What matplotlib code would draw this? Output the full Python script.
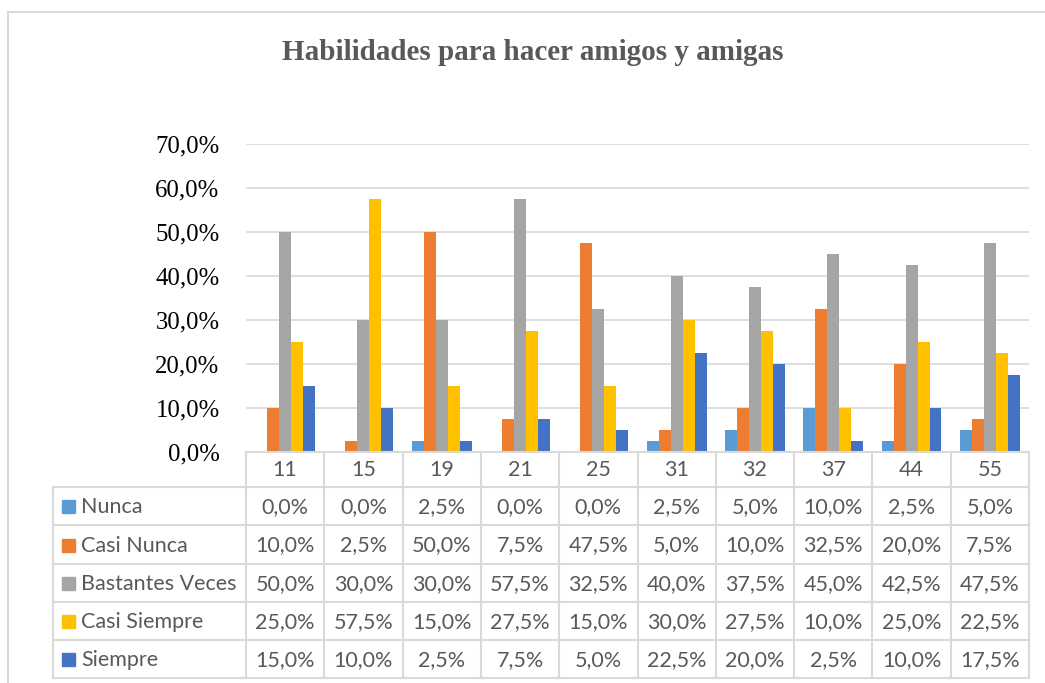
import numpy as np
import matplotlib.pyplot as plt
from matplotlib.lines import Line2D
from matplotlib.patches import Rectangle

# datos
categorias = ["11", "15", "19", "21", "25", "31", "32", "37", "44", "55"]
series = ["Nunca", "Casi Nunca", "Bastantes Veces", "Casi Siempre", "Siempre"]
nunca = [0.0, 0.0, 2.5, 0.0, 0.0, 2.5, 5.0, 10.0, 2.5, 5.0]
casi_nunca = [10.0, 2.5, 50.0, 7.5, 47.5, 5.0, 10.0, 32.5, 20.0, 7.5]
bastantes = [50.0, 30.0, 30.0, 57.5, 32.5, 40.0, 37.5, 45.0, 42.5, 47.5]
casi_siempre = [25.0, 57.5, 15.0, 27.5, 15.0, 30.0, 27.5, 10.0, 25.0, 22.5]
siempre = [15.0, 10.0, 2.5, 7.5, 5.0, 22.5, 20.0, 2.5, 10.0, 17.5]
colores = ["#5B9BD5", "#ED7D31", "#A5A5A5", "#FFC000", "#4472C4"]
valores = [nunca, casi_nunca, bastantes, casi_siempre, siempre]

W, H = 1045, 683
gris = "#595959"
linea = "#D9D9D9"
fuente_tabla = "Lato"
tam_tabla = 15.5

def pct(v):
    return ("%.1f%%" % v).replace(".", ",")

fig = plt.figure(figsize=(W / 100, H / 100), dpi=100)

# ---- area del grafico (pixeles) ----
x0, x1 = 246, 1029
y_top, y_bot = 144, 452
ax = fig.add_axes([x0 / W, 1 - y_bot / H, (x1 - x0) / W, (y_bot - y_top) / H])
n = len(categorias)
xs = np.arange(n)
ancho = 0.153
for k in range(len(series)):
    ax.bar(xs + (k - 2) * ancho, valores[k], ancho, color=colores[k], zorder=3)
ax.set_xlim(-0.5, n - 0.5)
ax.set_ylim(0, 70)
ax.set_yticks(np.arange(0, 71, 10))
ax.set_yticklabels([pct(v) for v in np.arange(0, 71, 10)],
                   fontfamily="Liberation Serif", fontsize=17.8, color="black")
ax.set_xticks([])
ax.tick_params(axis="y", length=0, pad=19)
ax.grid(axis="y", color=linea, linewidth=1.2, zorder=0)
for s in ax.spines.values():
    s.set_visible(False)

# ---- capa en pixeles para tabla, titulo y borde ----
ov = fig.add_axes([0, 0, 1, 1])
ov.set_xlim(0, W)
ov.set_ylim(H, 0)
ov.axis("off")

# borde del grafico
ov.add_line(Line2D([8, 8], [12, H], color=linea, lw=1.5))
ov.add_line(Line2D([8, W], [12, 12], color=linea, lw=1.5))

ov.text(533, 52, "Habilidades para hacer amigos y amigas", ha="center", va="center",
        fontfamily="Liberation Serif", fontweight="bold", fontsize=21, color=gris)

# tabla de datos
col_w = (x1 - x0) / n
filas = [452, 487, 525, 564, 602, 640, 678]
leg_x = 53
lw_t = 1.5
# horizontales
ov.add_line(Line2D([x0, x1], [filas[0], filas[0]], color=linea, lw=lw_t))
for yy in filas[1:]:
    ov.add_line(Line2D([leg_x, x1], [yy, yy], color=linea, lw=lw_t))
# verticales
ov.add_line(Line2D([leg_x, leg_x], [filas[1], filas[-1]], color=linea, lw=lw_t))
for i in range(n + 1):
    xx = x0 + i * col_w
    ov.add_line(Line2D([xx, xx], [filas[0], filas[-1]], color=linea, lw=lw_t))

# encabezados
for i, c in enumerate(categorias):
    ov.text(x0 + (i + 0.5) * col_w, (filas[0] + filas[1]) / 2 + 1, c, ha="center", va="center",
            fontfamily=fuente_tabla, fontsize=tam_tabla, color=gris)

# filas de series
for k, nombre in enumerate(series):
    yc = (filas[k + 1] + filas[k + 2]) / 2 + 1
    ov.add_patch(Rectangle((62, yc - 7), 13, 13, color=colores[k]))
    ov.text(81, yc, nombre, ha="left", va="center",
            fontfamily=fuente_tabla, fontsize=tam_tabla, color=gris)
    for i in range(n):
        ov.text(x0 + (i + 0.5) * col_w, yc, pct(valores[k][i]), ha="center", va="center",
                fontfamily=fuente_tabla, fontsize=tam_tabla, color=gris)

fig.savefig("out.png", dpi=100)
